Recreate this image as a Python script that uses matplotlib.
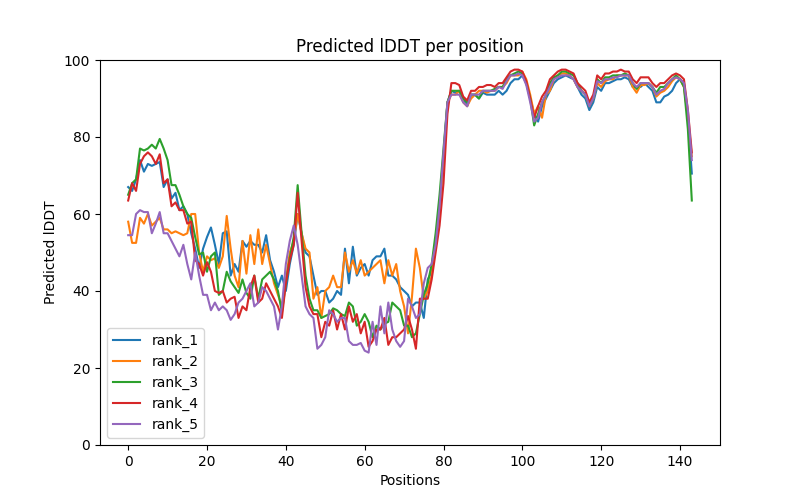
import numpy as np
import matplotlib
matplotlib.use("Agg")
import matplotlib.pyplot as plt

# Predicted lDDT values, positions 0..143
rank_1 = [67, 66, 69, 74, 71, 73, 72.5, 73, 73.5, 67, 69, 64, 65.5, 61, 62, 60, 55, 51, 46, 51,
          54, 56.5, 52, 47, 55, 55.5, 44, 47, 45, 53, 51.5, 53, 52, 52, 50, 54.5, 48, 45, 41, 44,
          40, 47, 52, 60, 55, 50, 49, 44, 39, 40, 40, 37, 38, 40, 39, 51, 42, 51.5, 44, 46,
          47, 44, 48, 49, 49, 51, 44, 44, 43, 41, 40, 39, 36, 37, 37, 33, 43, 45, 52, 62,
          75, 89, 92, 91.5, 92, 90, 88, 91, 91, 90, 91.5, 91, 91, 91, 92, 91, 92, 94, 95, 95,
          96, 94, 90, 86, 84, 88, 90, 92, 94, 95, 95.5, 96, 95.5, 95, 93, 91, 90, 87, 89, 93,
          92, 94, 94, 94.5, 95, 95, 95.5, 95, 93, 93, 93, 94, 93, 92, 89, 89, 90.5, 91, 92, 94,
          95, 94, 85, 70.5]
rank_2 = [58, 52.5, 52.5, 59, 57.5, 60, 57, 58, 59, 56, 56, 55, 55.5, 55, 54.5, 55, 60, 60, 50, 45,
          49, 48, 48.5, 46, 49, 59.5, 51, 44, 41, 53, 44.5, 54.5, 47, 56, 47, 52, 47, 42, 39, 36,
          43, 50, 53, 60, 55, 51, 50, 38, 41, 33, 40, 41, 44, 41, 41, 50, 45, 48, 44.5, 48,
          44, 45, 46, 47, 48, 42, 48, 44, 47, 40, 36, 29, 38.5, 51, 46, 38, 40, 44, 53, 62,
          73, 89, 91, 91, 92, 89, 88, 90, 91, 92, 92, 91.5, 92, 92, 93, 93, 94, 96, 96, 96,
          97, 95, 91, 86, 88, 85, 91, 92, 95, 96, 96.5, 96.5, 96, 95, 93, 92, 91, 88, 90, 94,
          93, 94.5, 95, 95, 96, 96, 96, 96, 93, 91.5, 93.5, 93.5, 94, 93, 90.5, 91.5, 92, 93, 94.5, 95.5,
          95, 93, 85, 75]
rank_3 = [65, 68, 69, 77, 76.5, 77, 78, 77, 79.5, 77, 74, 67.5, 67.5, 65, 62, 60, 59, 54, 49.5, 50,
          45, 49, 50, 39, 40, 45, 42.5, 41, 39.5, 43, 39.5, 38, 44, 38, 43, 44, 45, 43, 40, 34.5,
          42, 48.5, 54, 67.5, 55, 44, 38, 35, 35, 33, 33.5, 34, 35.5, 35, 34, 33.5, 37, 36, 31, 32,
          34, 32, 28, 31, 30, 31.5, 32, 37, 36, 35, 31, 31, 28, 29, 34, 39, 42, 47, 55, 65,
          77, 89, 92, 92, 92, 90, 89, 91, 91, 90, 92, 92, 92, 92.5, 93, 93, 95, 96, 96.5, 97,
          96.5, 94, 90, 83, 86, 89, 91, 94, 95.5, 96, 97, 97, 96.5, 96, 94, 92, 91, 88, 90, 95,
          94, 95.5, 95.5, 96, 96, 96, 96.5, 96, 94, 92.5, 94, 94, 94, 93, 91.5, 93, 93, 94, 95, 96,
          95, 93, 82, 63.5]
rank_4 = [63.5, 68, 66, 73, 75, 76, 75, 73, 75.5, 68, 69, 62, 63, 61, 61, 57.5, 58, 48, 47, 44,
          47.5, 45, 40, 39.5, 40, 37, 38, 38.5, 33, 36, 35, 41, 44, 37, 38, 42, 40, 38, 36, 33,
          42, 48, 52, 65.5, 53, 41, 36, 34, 34, 28, 32, 31, 35, 30, 34, 30, 36, 32, 34, 29,
          32, 25.5, 27, 30, 30, 33, 26, 28, 28, 29, 30, 33.5, 30, 25, 38, 38, 38, 43, 50, 57,
          68, 86, 94, 94, 93.5, 90.5, 89.5, 92, 92, 93, 93, 93.5, 93.5, 93, 94, 94, 95.5, 97, 97.5, 97.5,
          97, 94.5, 90, 85, 88, 90.5, 92, 95, 96, 97, 97.5, 97.5, 97, 96.5, 94, 93, 92, 89, 91, 96,
          95, 96.5, 96.5, 97, 97, 97.5, 97, 97, 95, 94, 95.5, 95.5, 95.5, 94, 93, 94, 94, 95, 96, 96.5,
          96, 95, 87, 76]
rank_5 = [54.5, 54.5, 60, 61, 60.5, 60.5, 55, 57.5, 60.5, 55, 55, 53, 51, 49, 52, 47, 43, 50, 44, 39,
          39, 35, 37, 35, 36, 35, 32.5, 34, 37, 38, 40, 42, 36, 37, 41, 40, 38, 36, 30, 36,
          47, 53, 57, 52, 44, 36, 34, 33, 25, 26, 28, 35, 34, 32, 33, 33, 27, 26, 26, 26.5,
          24.5, 24, 32, 26, 36, 29, 37, 30, 27, 25.5, 27, 38, 36, 33, 34, 42, 46, 47, 52, 62,
          76, 89, 91, 91, 91, 89, 88, 91, 91, 91, 92, 92, 92, 92, 93, 92.5, 94.5, 96, 96, 96.5,
          96, 93.5, 89, 84, 85, 89, 91, 93, 95, 95.5, 96, 96, 96, 95, 93, 92, 91, 88, 90, 94.5,
          94, 95, 95, 95.5, 95.5, 96, 96, 96, 94, 93, 94, 94, 94, 93, 91, 92, 92.5, 94, 95, 95.5,
          95, 94, 87, 74]

ranks = [rank_1, rank_2, rank_3, rank_4, rank_5]
labels = ["rank_1", "rank_2", "rank_3", "rank_4", "rank_5"]

plt.figure(figsize=(8, 5), dpi=100)
for vals, lab in zip(ranks, labels):
    plt.plot(np.arange(len(vals)), vals, label=lab)
plt.title("Predicted lDDT per position")
plt.xlabel("Positions")
plt.ylabel("Predicted lDDT")
plt.ylim(0, 100)
plt.legend(loc="lower left")
plt.savefig("out.png")
